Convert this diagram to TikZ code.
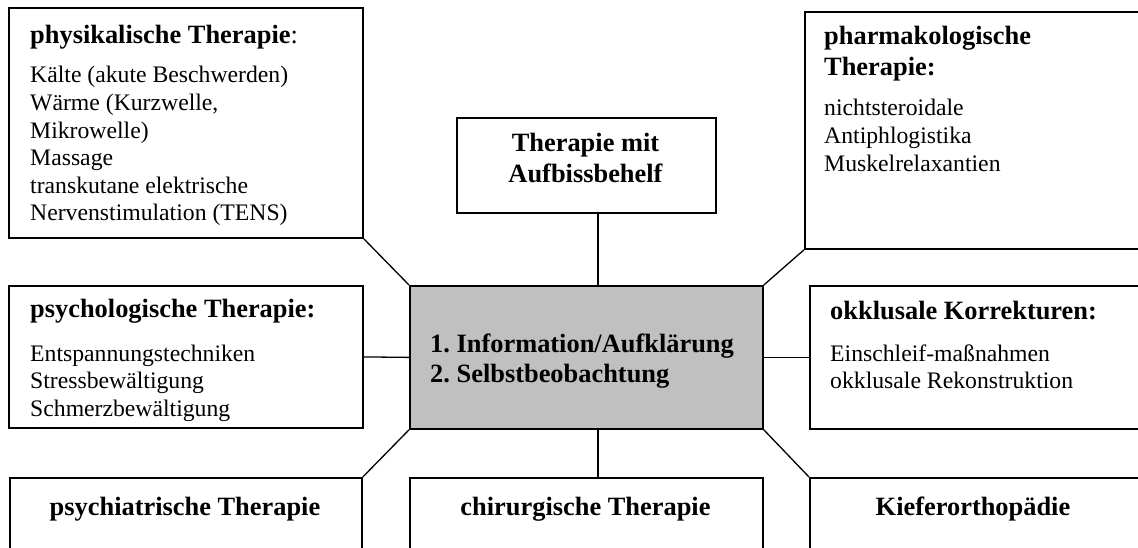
\documentclass[tikz,border=0pt]{standalone}
\usepackage{fontspec}
\setmainfont{Liberation Serif}
\frenchspacing
\newcommand{\llines}[1]{\begin{tabular}[t]{@{}l@{}}#1\end{tabular}}
\newcommand{\clines}[1]{\begin{tabular}[t]{@{}c@{}}#1\end{tabular}}
\tikzset{
  box/.style={draw=black, line width=1.8pt, rectangle, inner sep=0pt, anchor=north west},
  centerbox/.style={box, fill=boxgray},
  conn/.style={draw=black, line width=1.3pt},
  bodytext/.style={font={\fontsize{23.7pt}{27.6pt}\selectfont}, anchor=base west, inner sep=0pt},
  headtext/.style={font={\fontsize{26.4pt}{30.5pt}\selectfont}, anchor=base west, inner sep=0pt},
  headctext/.style={headtext, anchor=base}
}
\definecolor{boxgray}{RGB}{192,192,192}
\begin{document}
\begin{tikzpicture}[x=1pt,y=-1pt]
\useasboundingbox (0,0) rectangle (1138,548);
\fill[white] (0,0) rectangle (1138,548);
\clip (0,0) rectangle (1138,548);
% boxes
\node[box, minimum width=354pt, minimum height=230pt] (phys) at (8,7) {};
\node[box, minimum width=259pt, minimum height=95pt] (aufb) at (456,117) {};
\node[box, minimum width=360pt, minimum height=237pt] (pharm) at (804,11) {};
\node[box, minimum width=354pt, minimum height=142pt] (psych) at (8,285) {};
\node[centerbox, minimum width=353pt, minimum height=143pt] (center) at (409,285) {};
\node[box, minimum width=360pt, minimum height=143pt] (okkl) at (809,285) {};
\node[box, minimum width=352pt, minimum height=100pt] (psychiat) at (9,477) {};
\node[box, minimum width=353pt, minimum height=100pt] (chir) at (409,477) {};
\node[box, minimum width=360pt, minimum height=100pt] (kiefer) at (809,477) {};
% connectors
\draw[conn] (phys.south east) -- (center.north west);
\draw[conn] (pharm.south west) -- (center.north east);
\draw[conn] ([xshift=11.5pt]aufb.south) -- ([xshift=11.5pt]center.north);
\draw[conn] (psych.east) -- (center.west);
\draw[conn] (okkl.west) -- (center.east);
\draw[conn] (center.south west) -- (psychiat.north east);
\draw[conn] (center.south east) -- (kiefer.north west);
\draw[conn] ([xshift=11.5pt]center.south) -- ([xshift=11.5pt]chir.north);
% texts
\node[headtext] (physh) at (30,44) {\textbf{physikalische Therapie}:};
\node[bodytext] (physb) at (30,83) {\llines{K\"alte (akute Beschwerden)\\W\"arme (Kurzwelle,\\Mikrowelle)\\Massage\\transkutane elektrische\\Nervenstimulation (TENS)}};
\node[headtext] (pharmh) at (824,45) {\llines{\bfseries pharmakologische\\\bfseries Therapie:}};
\node[bodytext] (pharmb) at (824,116) {\llines{nichtsteroidale\\Antiphlogistika\\Muskelrelaxantien}};
\node[headctext] (aufbt) at (585.5,152) {\clines{\bfseries Therapie mit\\\bfseries Aufbissbehelf}};
\node[headtext] (psychh) at (30,317) {\textbf{psychologische Therapie:}};
\node[bodytext] (psychb) at (30,361) {\llines{Entspannungstechniken\\Stressbew\"altigung\\Schmerzbew\"altigung}};
\node[headtext] (centert) at (430,352) {\llines{\bfseries 1. Information/Aufkl\"arung\\\bfseries 2. Selbstbeobachtung}};
\node[headtext] (okklh) at (830,319) {\textbf{okklusale Korrekturen:}};
\node[bodytext] (okklb) at (830,361) {\llines{Einschleif-ma\ss nahmen\\okklusale Rekonstruktion}};
\node[headctext] (psychiatt) at (185,515) {\textbf{psychiatrische Therapie}};
\node[headctext] (chirt) at (585.5,515) {\textbf{chirurgische Therapie}};
\node[headctext] (kiefert) at (973,515) {\textbf{Kieferorthop\"adie}};
\end{tikzpicture}
\end{document}
